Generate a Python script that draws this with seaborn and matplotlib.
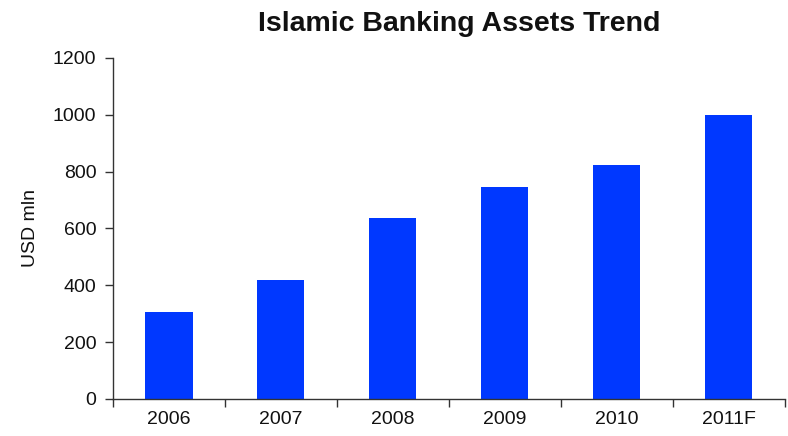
import numpy as np
import pandas as pd
import matplotlib
matplotlib.use("Agg")
import matplotlib.pyplot as plt
import seaborn as sns

years = ["2006", "2007", "2008", "2009", "2010", "2011F"]
assets = [306, 420, 636, 746, 825, 1001]

sns.set_theme(style="ticks")
plt.rcParams['font.family'] = ['Liberation Sans', 'DejaVu Sans']

df = pd.DataFrame({"year": years, "assets": assets})

fig = plt.figure(figsize=(7.88, 4.36), dpi=100)
ax = fig.add_axes([0.1434, 0.085, 0.8526, 0.782])

sns.barplot(data=df, x="year", y="assets", color="#0038ff", saturation=1,
            width=0.42, ax=ax, linewidth=0)

ax.set_ylim(0, 1200)
ax.set_xlim(-0.5, len(years) - 0.5)
ax.set_yticks(np.arange(0, 1201, 200))

# tick marks sit between categories on the x axis
ax.set_xticks(np.arange(-0.5, len(years), 1.0), minor=True)
ax.tick_params(axis='x', which='major', length=0, pad=9, labelsize=14, colors='#111111')
ax.tick_params(axis='x', which='minor', length=6, width=1, color='#333333')
ax.tick_params(axis='y', length=6, width=1, color='#333333', labelsize=14,
               labelcolor='#111111', pad=6)

for side in ['top', 'right']:
    ax.spines[side].set_visible(False)
for side in ['left', 'bottom']:
    ax.spines[side].set_linewidth(1.0)
    ax.spines[side].set_color('#333333')

ax.set_xlabel('')
ax.set_ylabel('USD mln', fontsize=14, color='#111111', labelpad=10)

fig.text(0.583, 0.945, 'Islamic Banking Assets Trend', ha='center', va='center',
         fontsize=20.5, fontweight='bold', color='#111111')

fig.savefig('out.png', dpi=100)
